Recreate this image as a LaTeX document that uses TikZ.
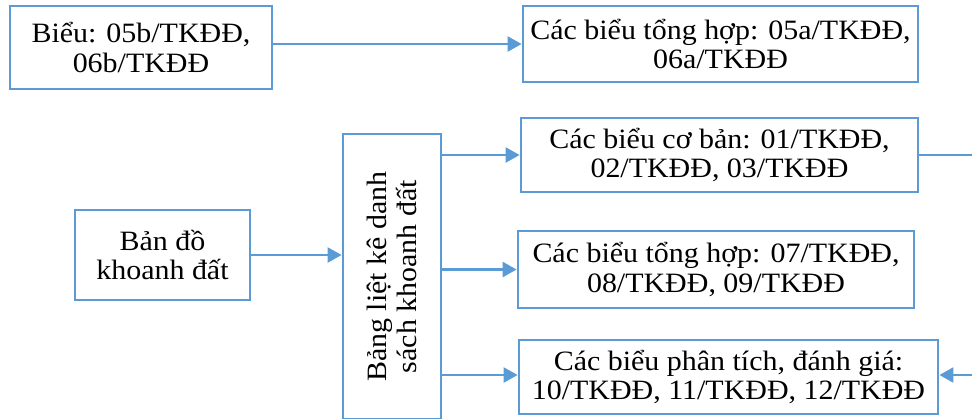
\documentclass[tikz,border=0pt]{standalone}
\usepackage{fontspec}
\setmainfont{Liberation Serif}[FakeStretch=1.07]
\usetikzlibrary{arrows.meta}
\definecolor{lineblue}{HTML}{5B9BD5}
\tikzset{
  txt/.style={font=\fontsize{28}{29.5}\selectfont},
  box/.style={draw=lineblue, line width=2.8pt, inner sep=0pt, align=center, txt},
  conn/.style={draw=lineblue, line width=2.4pt},
  arr/.style={conn, -{Triangle[length=14pt,width=15pt]}}
}
\begin{document}
\begin{tikzpicture}[x=1pt,y=-1pt]
\useasboundingbox (0,0) rectangle (972,418);
\node[box, minimum width=262pt, minimum height=83pt] (a) at (141,47.5) {Biểu: 05b/TKĐĐ,\\06b/TKĐĐ};
\node[box, minimum width=395pt, minimum height=76pt] (b) at (720.5,44) {Các biểu tổng hợp: 05a/TKĐĐ,\\06a/TKĐĐ};
\node[box, minimum width=175pt, minimum height=90pt] (f) at (162.5,255) {Bản đồ\\khoanh đất};
\node[box, minimum width=98pt, minimum height=285pt] (v) at (392,276.5) {};
\node[rotate=90, align=center, txt] (vt) at (v.center) {Bảng liệt kê danh\\sách khoanh đất};
\node[box, minimum width=397pt, minimum height=74pt] (c) at (719.5,155) {Các biểu cơ bản: 01/TKĐĐ,\\02/TKĐĐ, 03/TKĐĐ};
\node[box, minimum width=396pt, minimum height=77pt] (d) at (716,269.5) {Các biểu tổng hợp: 07/TKĐĐ,\\08/TKĐĐ, 09/TKĐĐ};
\node[box, minimum width=419pt, minimum height=74pt] (e) at (728.5,377) {Các biểu phân tích, đánh giá:\\10/TKĐĐ, 11/TKĐĐ, 12/TKĐĐ};
\coordinate (cr) at (972,155);
\coordinate (er) at (972,375);
\draw[arr] (a.east |- b.west) -- (b.west);
\draw[arr] (f.east) -- (f.east -| v.west);
\draw[arr] (v.east |- c.west) -- (c.west);
\draw[arr] (v.east |- d.west) -- (d.west);
\draw[arr] (v.east |- er) -- (e.west |- er);
\draw[conn] (c.east) -- (cr);
\draw[arr] (er) -- (e.east |- er);
\end{tikzpicture}
\end{document}
